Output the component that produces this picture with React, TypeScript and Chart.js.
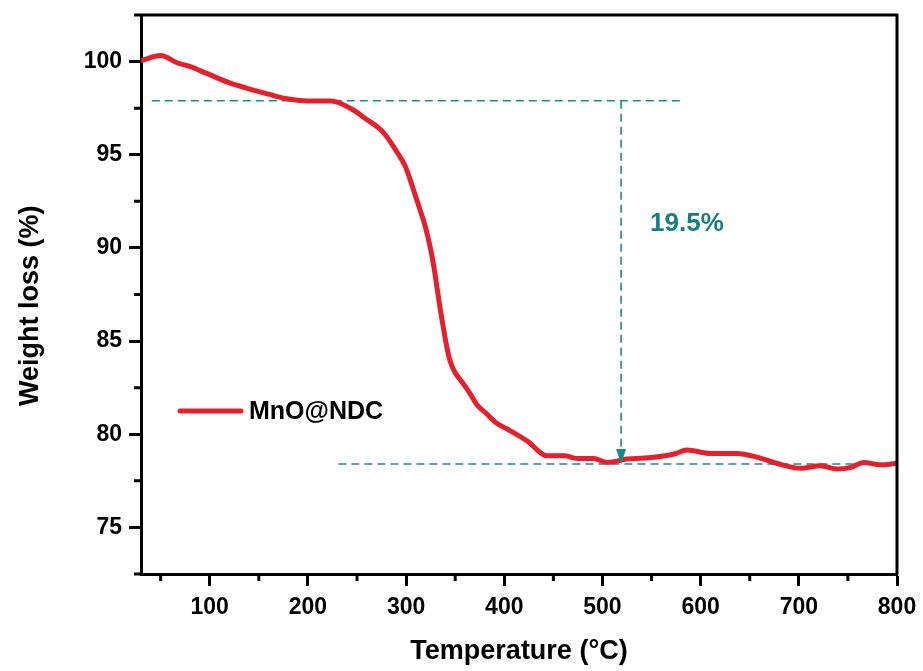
import React, { useEffect, useRef } from "react";
import { Chart, registerables } from "chart.js";

Chart.register(...registerables);

// ---- Data ----
const temperature = [
  30, 50, 68, 78, 95, 119, 139, 160, 177, 200,
  224, 245, 257, 277, 291, 299, 304, 309, 314, 319.5,
  325, 328.7, 331.4, 334.8, 338.2, 341.9, 345, 350, 357, 365,
  372, 382, 392, 403, 423, 444, 461, 474, 491, 505,
  525, 552, 573, 586, 610, 637, 658, 678, 702, 722,
  739, 753, 766, 783, 800,
];
const weightLoss = [
  100.05, 100.32, 99.91, 99.77, 99.41, 98.88, 98.55, 98.25, 98.02, 97.89,
  97.89, 97.44, 97.0, 96.19, 95.12, 94.4, 93.69, 92.88, 92.08, 91.16,
  89.93, 88.86, 87.9, 86.71, 85.64, 84.57, 83.9, 83.3, 82.8, 82.2,
  81.6, 81.1, 80.6, 80.28, 79.65, 78.84, 78.84, 78.7, 78.7, 78.49,
  78.67, 78.76, 78.94, 79.15, 78.97, 78.97, 78.76, 78.43, 78.17, 78.31,
  78.13, 78.22, 78.49, 78.36, 78.44,
];
const seriesLabel = "MnO@NDC";

const xMajorTicks = [100, 200, 300, 400, 500, 600, 700, 800];
const xMinorTicks = [50, 150, 250, 350, 450, 550, 650, 750];
const yMajorTicks = [75, 80, 85, 90, 95, 100];
const yMinorTicks = [72.5, 77.5, 82.5, 87.5, 92.5, 97.5, 102.5];

// annotation values
const upperLevel = 97.9;
const upperLineTemps = [41, 583];
const lowerLevel = 78.4;
const lowerLineTemps = [231, 800];
const arrowTemp = 519;
const lossText = "19.5%";
const lossTextTemp = 586;
const lossTextLevel = 91.3;

const FONT = '"Liberation Sans", Arial, Helvetica, sans-serif';
const RED = "#e4202c";
const TEAL = "#1c8a8a";
const TEAL_TEXT = "#15807f";

const overlayPlugin = {
  id: "overlay",
  afterDatasetsDraw(chart: any) {
    const { ctx, scales } = chart;
    const x = scales.x;
    const y = scales.y;
    // arrow head
    const ax = x.getPixelForValue(arrowTemp);
    const ay = y.getPixelForValue(lowerLevel);
    ctx.save();
    ctx.fillStyle = TEAL;
    ctx.beginPath();
    ctx.moveTo(ax, ay);
    ctx.lineTo(ax - 5, ay - 15);
    ctx.lineTo(ax + 5, ay - 15);
    ctx.closePath();
    ctx.fill();
    // label
    ctx.font = `bold 26px ${FONT}`;
    ctx.fillStyle = TEAL_TEXT;
    ctx.textAlign = "center";
    ctx.textBaseline = "middle";
    ctx.fillText(lossText, x.getPixelForValue(lossTextTemp), y.getPixelForValue(lossTextLevel));
    ctx.restore();
  },
  afterDraw(chart: any) {
    const { ctx, chartArea, scales } = chart;
    const { left, right, top, bottom } = chartArea;
    ctx.save();
    ctx.strokeStyle = "#000";
    ctx.lineWidth = 3;
    // top and right frame
    ctx.beginPath();
    ctx.moveTo(left, top);
    ctx.lineTo(right, top);
    ctx.lineTo(right, bottom);
    ctx.stroke();
    // minor ticks
    ctx.beginPath();
    xMinorTicks.forEach((v) => {
      const px = scales.x.getPixelForValue(v);
      ctx.moveTo(px, bottom);
      ctx.lineTo(px, bottom + 7);
    });
    yMinorTicks.forEach((v) => {
      const py = scales.y.getPixelForValue(v);
      ctx.moveTo(left, py);
      ctx.lineTo(left - 7, py);
    });
    ctx.stroke();
    // legend
    const lx = left + 37;
    const ly = top + 396;
    ctx.strokeStyle = RED;
    ctx.lineWidth = 5;
    ctx.lineCap = "round";
    ctx.beginPath();
    ctx.moveTo(lx + 2, ly);
    ctx.lineTo(lx + 63, ly);
    ctx.stroke();
    ctx.fillStyle = "#000";
    ctx.font = `bold 25px ${FONT}`;
    ctx.textAlign = "left";
    ctx.textBaseline = "middle";
    ctx.fillText(chart.data.datasets[0].label, lx + 71, ly + 1);
    ctx.restore();
  },
};

export default function App() {
  const canvasRef = useRef<HTMLCanvasElement | null>(null);

  useEffect(() => {
    const canvas = canvasRef.current;
    if (!canvas) return;
    const curve = temperature.map((t, i) => ({ x: t, y: weightLoss[i] }));
    const dashed = {
      borderColor: TEAL,
      borderWidth: 1.6,
      borderDash: [8, 5],
      pointRadius: 0,
      fill: false,
      order: 1,
    };
    const chart = new Chart(canvas, {
      type: "line",
      data: {
        datasets: [
          {
            label: seriesLabel,
            data: curve,
            borderColor: RED,
            borderWidth: 5,
            pointRadius: 0,
            cubicInterpolationMode: "monotone",
            fill: false,
            order: 0,
          },
          {
            ...dashed,
            label: "upper",
            data: upperLineTemps.map((t) => ({ x: t, y: upperLevel })),
          },
          {
            ...dashed,
            label: "lower",
            data: lowerLineTemps.map((t) => ({ x: t, y: lowerLevel })),
          },
          {
            ...dashed,
            label: "drop",
            data: [
              { x: arrowTemp, y: upperLevel },
              { x: arrowTemp, y: lowerLevel },
            ],
          },
        ],
      },
      options: {
        responsive: false,
        animation: false,
        events: [],
        layout: { padding: { top: 15, right: 26, left: 0, bottom: 0 } },
        plugins: {
          legend: { display: false },
          tooltip: { enabled: false },
        },
        scales: {
          x: {
            type: "linear",
            min: 30,
            max: 800,
            afterBuildTicks: (scale: any) => {
              scale.ticks = xMajorTicks.map((v) => ({ value: v }));
            },
            afterFit: (scale: any) => {
              scale.height = 97;
              scale.paddingLeft = 0;
              scale.paddingRight = 0;
            },
            grid: {
              drawOnChartArea: false,
              tickLength: 12,
              tickWidth: 3,
              tickColor: "#000",
            },
            border: { display: true, width: 3, color: "#000" },
            ticks: {
              autoSkip: false,
              maxRotation: 0,
              padding: 8,
              color: "#000",
              font: { family: FONT, size: 23, weight: "bold" },
            },
            title: {
              display: true,
              text: "Temperature (°C)",
              color: "#000",
              font: { family: FONT, size: 27, weight: "bold" },
              padding: { top: 0, bottom: 3 },
            },
          },
          y: {
            type: "linear",
            min: 72.5,
            max: 102.5,
            afterBuildTicks: (scale: any) => {
              scale.ticks = yMajorTicks.map((v) => ({ value: v }));
            },
            afterFit: (scale: any) => {
              scale.width = 141;
              scale.paddingTop = 0;
              scale.paddingBottom = 0;
            },
            grid: {
              drawOnChartArea: false,
              tickLength: 12,
              tickWidth: 3,
              tickColor: "#000",
            },
            border: { display: true, width: 3, color: "#000" },
            ticks: {
              autoSkip: false,
              padding: 7,
              color: "#000",
              font: { family: FONT, size: 23, weight: "bold" },
            },
            title: {
              display: true,
              text: "Weight loss (%)   ",
              color: "#000",
              font: { family: FONT, size: 27, weight: "bold" },
              padding: { top: 14, bottom: 0 },
            },
          },
        },
      },
      plugins: [overlayPlugin],
    } as any);
    return () => chart.destroy();
  }, []);

  return (
    <div style={{ position: "absolute", left: 0, top: 0, width: 923, height: 671, background: "#fff" }}>
      <canvas ref={canvasRef} width={923} height={671} style={{ display: "block" }} />
    </div>
  );
}
